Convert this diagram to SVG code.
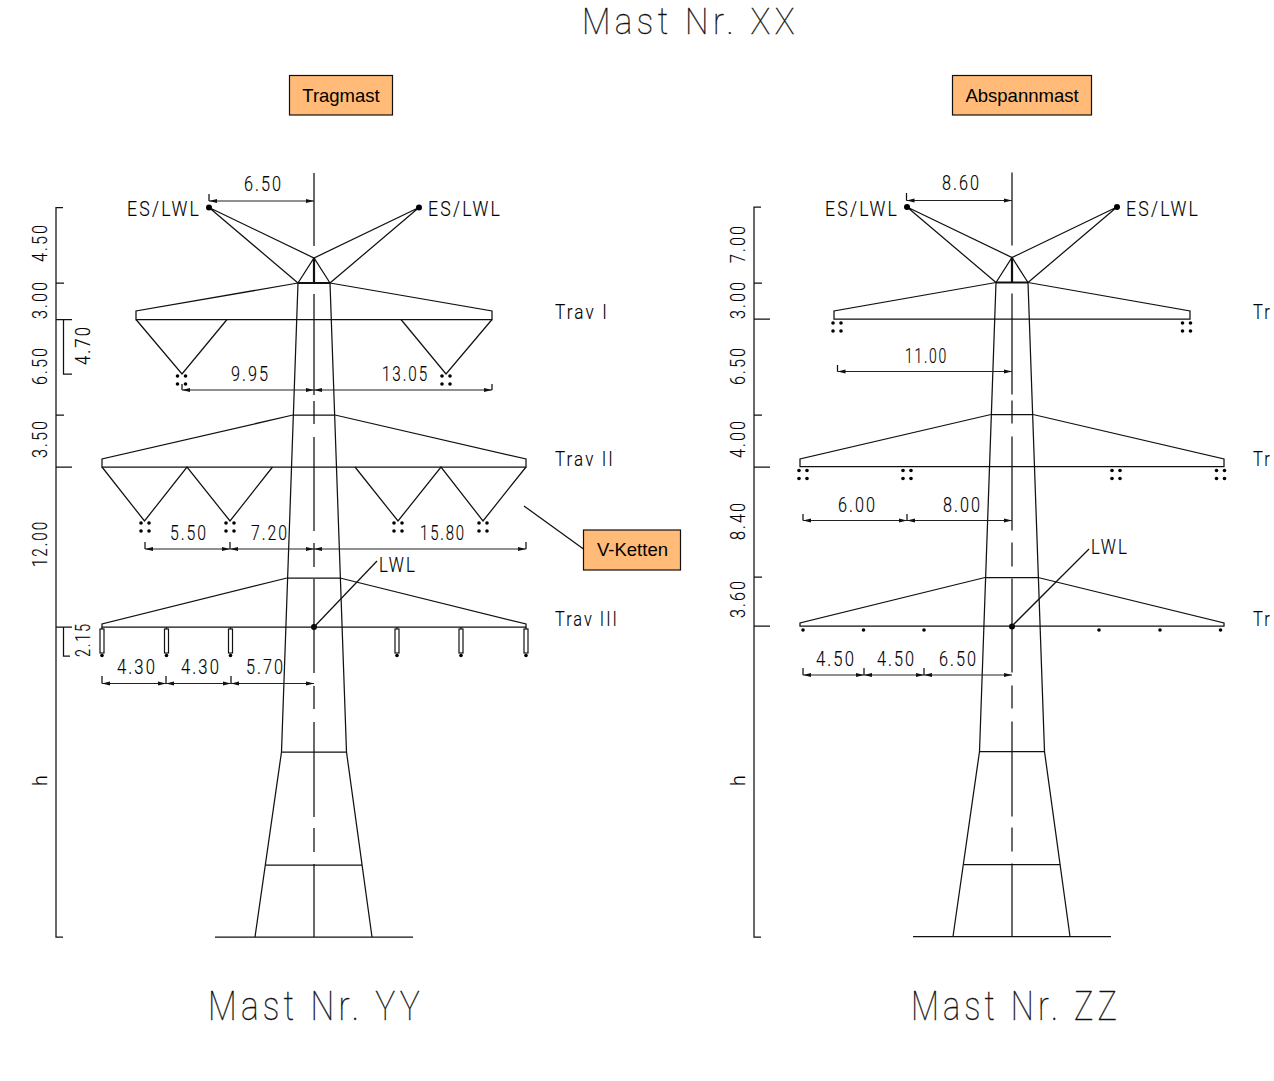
<svg xmlns="http://www.w3.org/2000/svg" width="1274" height="1081" viewBox="0 0 1274 1081">
<style>
.l{fill:none;stroke:#111;stroke-width:1.25}
.h{fill:none;stroke:#111;stroke-width:2.2}
.d{fill:none;stroke:#222;stroke-width:1.1;marker-start:url(#a);marker-end:url(#a)}
.t{font-family:Roboto,"Liberation Sans",sans-serif;font-weight:300;font-size:20px;letter-spacing:2.5px;fill:#000;stroke:#000;stroke-width:.15}
.b{font-family:Roboto,"Liberation Sans",sans-serif;font-weight:100;font-size:40px;letter-spacing:5px;fill:#111;stroke:#111;stroke-width:.35}
.n{font-family:"Liberation Sans",Arial,sans-serif;font-size:18.5px;fill:#000;text-anchor:middle}
.box{fill:#ffbb77;stroke:#111;stroke-width:1.2}
.p{fill:#000}
</style>
<defs>
<marker id="a" markerUnits="userSpaceOnUse" markerWidth="9" markerHeight="6" refX="8" refY="3" orient="auto-start-reverse"><path d="M0 1L8 3L0 5z" fill="#111"/></marker>
<g id="body">
<path class="l" d="M0 173V246M0 294V395M0 401V424M0 437V531M0 543V567M0 579V673M0 686V709M0 722V817M0 828V852M0 864V937"/>
<path class="h" d="M0 258V283M-16 283H16"/>
<path class="l" d="M-16 283L0 258L16 283M-16 283L-32.500 752L-59 937M16 283L32.500 752L58 937M-32.500 752H32.500M-48 865H48M-99 937H99"/>
<path class="l" d="M-21 415H21M-27 578H26"/>
<path class="l" d="M-105 207.500L0 258L105 207.500M-105 207.500L-16 283M105 207.500L16 283"/>
<circle class="p" cx="-105" cy="207.500" r="3"/><circle class="p" cx="105" cy="207.500" r="3"/>
<circle class="p" cx="0" cy="627" r="3"/>
</g>
<g id="q"><circle class="p" cx="-4" cy="0" r="1.800"/><circle class="p" cx="4" cy="0" r="1.800"/><circle class="p" cx="-4" cy="8" r="1.800"/><circle class="p" cx="4" cy="8" r="1.800"/></g>
<g id="ins"><path class="l" d="M0 627V629"/><rect x="-2" y="629" width="4" height="24" fill="#fff" stroke="#111" stroke-width="1.200"/><circle class="p" cx="0" cy="655.500" r="1.800"/></g>
</defs>

<g id="title-xx"><text class="b" x="582" y="34" style="font-size:37px" textLength="217" lengthAdjust="spacingAndGlyphs">Mast Nr. XX</text></g>
<g id="box-tragmast"><rect class="box" x="289.500" y="75.500" width="103" height="39.500"/><text class="n" x="341" y="102">Tragmast</text></g>
<g id="box-abspannmast"><rect class="box" x="952.500" y="75.500" width="139" height="39.500"/><text class="n" x="1022" y="102">Abspannmast</text></g>
<g id="box-vketten"><rect class="box" x="583.500" y="530" width="97" height="40"/><text class="n" x="632.500" y="556">V-Ketten</text></g>
<g id="connectors"><path class="l" d="M524 506L583.500 549"/></g>

<g id="mast-yy">
<use href="#body" x="314"/>
<path class="l" d="M298 283L136 311V319.500H492V311L330 283"/>
<path class="l" d="M136 319.500L182 374L227 319.500M401 319.500L446 374L492 319.500"/>
<path class="l" d="M293 415L102 459V467H526V459L335 415"/>
<path class="l" d="M102 467L144.500 521L187 467L230 521L272.500 467M355 467L398 521L441 467L483 521L526 467"/>
<path class="l" d="M287 578L102 624V627H526V624L340 578"/>
<use href="#q" x="181.500" y="376"/><use href="#q" x="446" y="376"/>
<use href="#q" x="145" y="523"/><use href="#q" x="230" y="523"/><use href="#q" x="398" y="523"/><use href="#q" x="483" y="523"/>
<use href="#ins" x="102"/><use href="#ins" x="166.500"/><use href="#ins" x="230.500"/><use href="#ins" x="397"/><use href="#ins" x="461"/><use href="#ins" x="526"/>
<path class="l" d="M314 627L377 561"/>
<path class="l" d="M63 207.500H56V937H63M56 283H64M56 319.500H72M56 415H64M56 467H72M56 627H72M63.500 319.500V374H72M63.500 627V656H70"/>
<path class="l" d="M209 194V201M182 384V390M492 384V390M145 542V549M230 542V549M526 542V549M102 676V683.500M166 676V683.500M231 676V683.500"/>
<path class="d" d="M209 201H314"/><path class="d" d="M182 390H314"/><path class="d" d="M314 390H492"/>
<path class="d" d="M145 549H230"/><path class="d" d="M230 549H314"/><path class="d" d="M314 549H526"/>
<path class="d" d="M102 683.500H166"/><path class="d" d="M166 683.500H231"/><path class="d" d="M231 683.500H314"/>
<text class="t" x="244" y="191" textLength="39" lengthAdjust="spacingAndGlyphs">6.50</text>
<text class="t" x="127" y="216" textLength="74" lengthAdjust="spacingAndGlyphs">ES/LWL</text>
<text class="t" x="428" y="216" textLength="74" lengthAdjust="spacingAndGlyphs">ES/LWL</text>
<text class="t" x="555" y="319" textLength="54" lengthAdjust="spacingAndGlyphs">Trav I</text>
<text class="t" x="555" y="466" textLength="60" lengthAdjust="spacingAndGlyphs">Trav II</text>
<text class="t" x="555" y="626" textLength="64" lengthAdjust="spacingAndGlyphs">Trav III</text>
<text class="t" x="231" y="381" textLength="39" lengthAdjust="spacingAndGlyphs">9.95</text>
<text class="t" x="382" y="381" textLength="47" lengthAdjust="spacingAndGlyphs">13.05</text>
<text class="t" x="170" y="540" textLength="38" lengthAdjust="spacingAndGlyphs">5.50</text>
<text class="t" x="251" y="540" textLength="38" lengthAdjust="spacingAndGlyphs">7.20</text>
<text class="t" x="420" y="540" textLength="46" lengthAdjust="spacingAndGlyphs">15.80</text>
<text class="t" x="379" y="572" textLength="38" lengthAdjust="spacingAndGlyphs">LWL</text>
<text class="t" x="117" y="674" textLength="40" lengthAdjust="spacingAndGlyphs">4.30</text>
<text class="t" x="181" y="674" textLength="40" lengthAdjust="spacingAndGlyphs">4.30</text>
<text class="t" x="246" y="674" textLength="39" lengthAdjust="spacingAndGlyphs">5.70</text>
<text class="t" transform="translate(47 262) rotate(-90)" textLength="39" lengthAdjust="spacingAndGlyphs">4.50</text>
<text class="t" transform="translate(47 319) rotate(-90)" textLength="39" lengthAdjust="spacingAndGlyphs">3.00</text>
<text class="t" transform="translate(47 385) rotate(-90)" textLength="39" lengthAdjust="spacingAndGlyphs">6.50</text>
<text class="t" transform="translate(47 458) rotate(-90)" textLength="39" lengthAdjust="spacingAndGlyphs">3.50</text>
<text class="t" transform="translate(47 567) rotate(-90)" textLength="47" lengthAdjust="spacingAndGlyphs">12.00</text>
<text class="t" transform="translate(47 786) rotate(-90)" textLength="13" lengthAdjust="spacingAndGlyphs">h</text>
<text class="t" transform="translate(90 365) rotate(-90)" textLength="40" lengthAdjust="spacingAndGlyphs">4.70</text>
<text class="t" transform="translate(90 657) rotate(-90)" textLength="35" lengthAdjust="spacingAndGlyphs">2.15</text>
<text class="b" x="208" y="1020" textLength="216" lengthAdjust="spacingAndGlyphs">Mast Nr. YY</text>
</g>

<g id="mast-zz">
<use href="#body" x="1012" y="-0.500"/>
<path class="l" d="M996 282.500L834 311V319H1190V311L1028 282.500"/>
<path class="l" d="M991 414.500L800 459V466.500H1224V459L1033 414.500"/>
<path class="l" d="M985 577.500L800 623V626H1224V623L1038 577.500"/>
<use href="#q" x="837" y="323"/><use href="#q" x="1186.500" y="323"/>
<use href="#q" x="803" y="470.500"/><use href="#q" x="907" y="470.500"/><use href="#q" x="1116" y="470.500"/><use href="#q" x="1220.500" y="470.500"/>
<circle class="p" cx="803" cy="630" r="1.800"/><circle class="p" cx="863.500" cy="630" r="1.800"/><circle class="p" cx="924" cy="630" r="1.800"/><circle class="p" cx="1099" cy="630" r="1.800"/><circle class="p" cx="1160" cy="630" r="1.800"/><circle class="p" cx="1220.500" cy="630" r="1.800"/>
<path class="l" d="M1012 626L1089 549"/>
<path class="l" d="M761 207H754V937H761M754 283H762M754 319H770M754 415H762M754 467H770M754 577H762M754 626H770"/>
<path class="l" d="M906.500 193V200.500M837.500 365V371.500M803 514V520.500M907 514V520.500M803 668V675M864 668V675M924 668V675"/>
<path class="d" d="M906.500 200.500H1012"/><path class="d" d="M837.500 371.500H1012"/>
<path class="d" d="M803 520.500H907"/><path class="d" d="M907 520.500H1012"/>
<path class="d" d="M803 675H864"/><path class="d" d="M864 675H924"/><path class="d" d="M924 675H1012"/>
<text class="t" x="942" y="190" textLength="39" lengthAdjust="spacingAndGlyphs">8.60</text>
<text class="t" x="825" y="216" textLength="74" lengthAdjust="spacingAndGlyphs">ES/LWL</text>
<text class="t" x="1126" y="216" textLength="74" lengthAdjust="spacingAndGlyphs">ES/LWL</text>
<text class="t" x="905" y="363" textLength="43" lengthAdjust="spacingAndGlyphs">11.00</text>
<text class="t" x="838" y="512" textLength="39" lengthAdjust="spacingAndGlyphs">6.00</text>
<text class="t" x="943" y="512" textLength="39" lengthAdjust="spacingAndGlyphs">8.00</text>
<text class="t" x="1091" y="554" textLength="38" lengthAdjust="spacingAndGlyphs">LWL</text>
<text class="t" x="816" y="666" textLength="40" lengthAdjust="spacingAndGlyphs">4.50</text>
<text class="t" x="877" y="666" textLength="39" lengthAdjust="spacingAndGlyphs">4.50</text>
<text class="t" x="939" y="666" textLength="39" lengthAdjust="spacingAndGlyphs">6.50</text>
<text class="t" x="1253" y="319" textLength="19" lengthAdjust="spacingAndGlyphs">Tr</text>
<text class="t" x="1253" y="466" textLength="19" lengthAdjust="spacingAndGlyphs">Tr</text>
<text class="t" x="1253" y="626" textLength="19" lengthAdjust="spacingAndGlyphs">Tr</text>
<text class="t" transform="translate(745 263) rotate(-90)" textLength="39" lengthAdjust="spacingAndGlyphs">7.00</text>
<text class="t" transform="translate(745 319) rotate(-90)" textLength="39" lengthAdjust="spacingAndGlyphs">3.00</text>
<text class="t" transform="translate(745 385) rotate(-90)" textLength="39" lengthAdjust="spacingAndGlyphs">6.50</text>
<text class="t" transform="translate(745 458) rotate(-90)" textLength="39" lengthAdjust="spacingAndGlyphs">4.00</text>
<text class="t" transform="translate(745 540) rotate(-90)" textLength="39" lengthAdjust="spacingAndGlyphs">8.40</text>
<text class="t" transform="translate(745 618) rotate(-90)" textLength="39" lengthAdjust="spacingAndGlyphs">3.60</text>
<text class="t" transform="translate(745 786) rotate(-90)" textLength="13" lengthAdjust="spacingAndGlyphs">h</text>
<text class="b" x="911" y="1020" textLength="210" lengthAdjust="spacingAndGlyphs">Mast Nr. ZZ</text>
</g>
</svg>
